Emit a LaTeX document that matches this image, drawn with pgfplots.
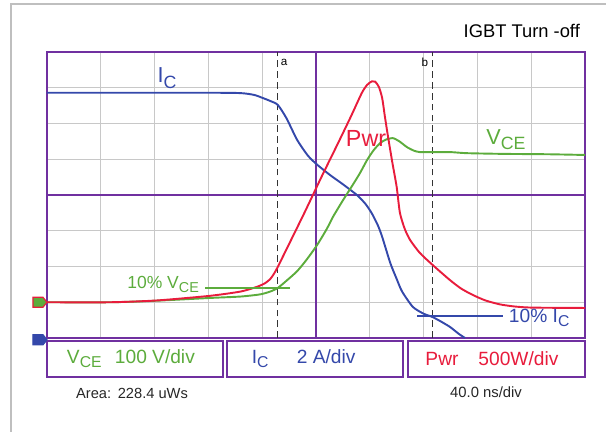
\documentclass[border=0pt]{standalone}
\usepackage{fontspec}
\setmainfont{Liberation Sans}
\usepackage{pgfplots}
\pgfplotsset{compat=1.18}
\definecolor{frame}{RGB}{112,48,160}
\definecolor{icblue}{RGB}{52,72,170}
\definecolor{pred}{RGB}{232,28,60}
\definecolor{vgreen}{RGB}{92,172,60}
\definecolor{gridgray}{RGB}{200,200,200}
\newcommand\sub[1]{\raisebox{-0.45ex}{\scalebox{0.82}{#1}}}
\pgfdeclareplotmark{chan}{%
 \pgfpathmoveto{\pgfqpoint{-8.4pt}{-3pt}}%
 \pgfpathlineto{\pgfqpoint{-2.4pt}{-3pt}}%
 \pgfpathlineto{\pgfqpoint{0pt}{0pt}}%
 \pgfpathlineto{\pgfqpoint{-2.4pt}{3pt}}%
 \pgfpathlineto{\pgfqpoint{-8.4pt}{3pt}}%
 \pgfpathclose
 \pgfusepathqfillstroke}
\begin{document}
\begin{tikzpicture}
\useasboundingbox (-28.2pt,-56.4pt) rectangle (335.4pt,202.8pt);
\draw[black!25, line width=1.2pt] (-21.6pt,-56.4pt) -- (-21.6pt,200.4pt) -- (335.4pt,200.4pt);
\begin{axis}[at={(0,0)}, anchor=south west,
  scale only axis, width=322.8pt, height=171.6pt,
  xmin=0, xmax=10, ymin=0, ymax=8,
  xtick={0,...,10}, ytick={0,...,8},
  xticklabels={}, yticklabels={},
  major tick length=0pt,
  grid=major, grid style={gridgray, line width=0.8pt},
  axis line style={frame, line width=1.3pt},
  clip=false]
% centre lines
\draw[frame, line width=1.2pt] (axis cs:5,0) -- (axis cs:5,8);
\draw[frame, line width=1.2pt] (axis cs:0,4) -- (axis cs:10,4);
% cursors
\draw[black!80, line width=0.8pt, dash pattern=on 4pt off 2.5pt] (axis cs:4.29,0) -- (axis cs:4.29,8);
\draw[black!80, line width=0.8pt, dash pattern=on 4pt off 2.5pt] (axis cs:7.16,0) -- (axis cs:7.16,8);
\node[anchor=west, inner sep=1pt, font=\fontsize{7}{8}\selectfont] at (axis cs:4.31,7.72) {a};
\node[anchor=east, inner sep=1pt, font=\fontsize{7}{8}\selectfont] at (axis cs:7.12,7.72) {b};
% IC
\addplot[icblue, line width=1.15pt, smooth, tension=0.4] coordinates {
(0,6.86) (3.0,6.86) (3.6,6.85) (3.85,6.8) (4.0,6.72) (4.15,6.63) (4.29,6.52)
(4.45,6.15) (4.65,5.54) (4.85,5.1) (5.02,4.85) (5.26,4.56) (5.5,4.3)
(5.76,4.0) (5.92,3.75) (6.04,3.48) (6.15,3.15) (6.23,2.83) (6.38,2.1)
(6.5,1.65) (6.6,1.3) (6.8,0.87) (7.0,0.68) (7.16,0.59) (7.3,0.48)
(7.49,0.31) (7.65,0.12) (7.77,0.0)};
% VCE
\addplot[vgreen, line width=1.15pt, smooth, tension=0.4] coordinates {
(0,1.0) (1.2,1.0) (2.0,1.04) (3.03,1.12) (3.6,1.16) (3.96,1.22) (4.15,1.3)
(4.29,1.4) (4.45,1.6) (4.65,1.87) (4.83,2.2) (5.02,2.6) (5.2,3.05)
(5.32,3.4) (5.5,3.85) (5.69,4.3) (5.82,4.62) (5.95,4.98) (6.07,5.25)
(6.19,5.45) (6.3,5.55) (6.43,5.59) (6.55,5.5) (6.69,5.34) (6.82,5.24)
(6.93,5.2) (7.17,5.2) (7.5,5.2) (7.8,5.17) (8.5,5.15) (9.3,5.14) (10,5.12)};
% Pwr
\addplot[pred, line width=1.15pt, smooth, tension=0.4] coordinates {
(0,1.0) (1.17,1.0) (2.04,1.05) (3.03,1.18) (3.6,1.3) (3.9,1.43) (4.05,1.53)
(4.15,1.65) (4.22,1.8) (4.29,1.99) (4.5,2.63) (4.8,3.55) (5.1,4.5)
(5.4,5.42) (5.65,6.2) (5.85,6.85) (5.95,7.08) (6.04,7.18) (6.1,7.17)
(6.17,7.02) (6.23,6.71) (6.28,6.2) (6.34,5.62) (6.42,4.9) (6.5,4.22)
(6.56,3.5) (6.65,3.05) (6.75,2.74) (6.93,2.38) (7.17,2.04) (7.49,1.62)
(7.7,1.38) (7.92,1.2) (8.15,1.05) (8.42,0.94) (8.7,0.88) (9.03,0.85) (10,0.84)};
% 10% lines
\addplot[vgreen, line width=1.15pt] coordinates {(2.94,1.4) (4.52,1.4)};
\addplot[icblue, line width=1.15pt] coordinates {(6.88,0.62) (8.48,0.62)};
% channel markers
\addplot[only marks, mark=chan, mark options={fill=vgreen, draw=pred, line width=0.7pt}] coordinates {(0,1)};
\addplot[only marks, mark=chan, mark options={fill=icblue, draw=icblue, line width=0.7pt}] coordinates {(0,-0.05)};
% labels
\node[icblue, font=\fontsize{13}{15}\selectfont] at (axis cs:2.23,7.27) {I\sub{C}};
\node[pred, font=\fontsize{14}{16}\selectfont] at (axis cs:5.93,5.59) {Pwr};
\node[vgreen, font=\fontsize{13}{15}\selectfont] at (axis cs:8.53,5.54) {V\sub{CE}};
\node[vgreen, anchor=east, inner sep=1pt, font=\fontsize{10.5}{12}\selectfont] at (axis cs:2.86,1.5) {10\% V\sub{CE}};
\node[icblue, anchor=west, inner sep=1pt, font=\fontsize{11.5}{13}\selectfont] at (axis cs:8.55,0.56) {10\% I\sub{C}};
% bottom boxes
\draw[frame, line width=1.1pt, fill=white] (axis cs:0,-0.084) rectangle (axis cs:3.27,-1.09);
\draw[frame, line width=1.1pt, fill=white] (axis cs:3.35,-0.084) rectangle (axis cs:6.62,-1.09);
\draw[frame, line width=1.1pt, fill=white] (axis cs:6.71,-0.084) rectangle (axis cs:10,-1.09);
\node[vgreen, font=\fontsize{11.5}{13}\selectfont] at (axis cs:1.56,-0.58) {V\sub{CE}\hspace{8pt}100 V/div};
\node[icblue, font=\fontsize{11.5}{13}\selectfont] at (axis cs:4.77,-0.58) {I\sub{C}\hspace{17pt}2 A/div};
\node[pred, font=\fontsize{11.5}{13}\selectfont] at (axis cs:8.27,-0.58) {Pwr\hspace{12pt}500W/div};
\node[black!85, font=\fontsize{8.8}{10}\selectfont] at (axis cs:1.58,-1.54) {Area:\hspace{4pt}228.4 uWs};
\node[black!85, font=\fontsize{8.9}{10}\selectfont] at (axis cs:8.16,-1.52) {40.0 ns/div};
\node[black, anchor=east, inner sep=0pt, font=\fontsize{11}{13}\selectfont] at (axis cs:9.91,8.59) {IGBT Turn -off};
\end{axis}
\end{tikzpicture}
\end{document}
